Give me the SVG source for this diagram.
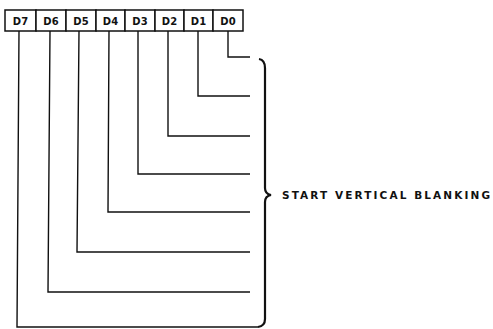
<svg xmlns="http://www.w3.org/2000/svg" width="493" height="329" viewBox="0 0 493 329">
<style>
.box{fill:#fff;stroke:#111;stroke-width:1.5}
.lbl{font-family:"DejaVu Sans","Liberation Sans",Arial,sans-serif;font-size:10px;font-weight:bold;fill:#111;text-anchor:middle}
.ln{fill:none;stroke:#111;stroke-width:1.4}
.br{fill:none;stroke:#111;stroke-width:2.2}
.txt{font-family:"DejaVu Sans","Liberation Sans",Arial,sans-serif;font-size:10.5px;font-weight:bold;fill:#111}
</style>
<rect width="493" height="329" fill="#fff"/>
<g id="D7"><rect class="box" x="5" y="10" width="31" height="21"/><text class="lbl" x="20.5" y="25">D7</text></g>
<g id="D6"><rect class="box" x="36" y="10" width="30" height="21"/><text class="lbl" x="51" y="25">D6</text></g>
<g id="D5"><rect class="box" x="66" y="10" width="30" height="21"/><text class="lbl" x="81" y="25">D5</text></g>
<g id="D4"><rect class="box" x="96" y="10" width="29" height="21"/><text class="lbl" x="110.5" y="25">D4</text></g>
<g id="D3"><rect class="box" x="125" y="10" width="30" height="21"/><text class="lbl" x="140" y="25">D3</text></g>
<g id="D2"><rect class="box" x="155" y="10" width="29" height="21"/><text class="lbl" x="169.5" y="25">D2</text></g>
<g id="D1"><rect class="box" x="184" y="10" width="29" height="21"/><text class="lbl" x="198.5" y="25">D1</text></g>
<g id="D0"><rect class="box" x="213" y="10" width="30" height="21"/><text class="lbl" x="228" y="25">D0</text></g>
<g id="connectors">
<polyline class="ln" points="228,31 228,57 250,57"/>
<polyline class="ln" points="198,31 198,96 250,96"/>
<polyline class="ln" points="168,31 168,136 250,136"/>
<polyline class="ln" points="138,31 138,174 250,174"/>
<polyline class="ln" points="109,31 108,212 250,212"/>
<polyline class="ln" points="79,31 77,252 250,252"/>
<polyline class="ln" points="50,31 48,292 250,292"/>
<polyline class="ln" points="19,31 17,327 258,327"/>
</g>
<g id="bracket">
<path class="br" d="M 259 59 Q 265 60 265 68 L 265 188 Q 265 194 271 195 Q 265 196 265 202 L 265 319 Q 265 326 258 327"/>
</g>
<g id="label">
<text class="txt" x="282" y="199" textLength="208" lengthAdjust="spacing">START VERTICAL BLANKING</text>
</g>
</svg>
